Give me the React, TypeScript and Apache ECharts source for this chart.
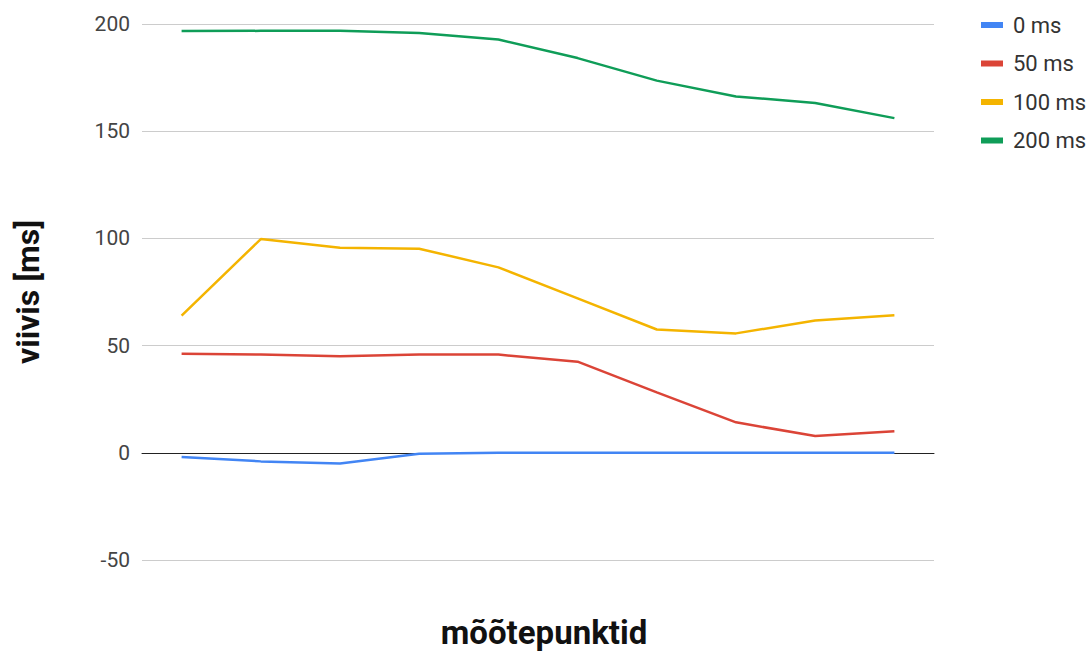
import { useEffect, useRef } from "react";
import * as echarts from "echarts";

// Ten measurement points (unlabelled on the x axis)
const points = ["1", "2", "3", "4", "5", "6", "7", "8", "9", "10"];

const seriesNames = ["0 ms", "50 ms", "100 ms", "200 ms"];
const seriesColors = ["#4285F4", "#DB4437", "#F4B400", "#0F9D58"];

const delay0 = [-2, -4, -5, -0.4, 0, 0, 0, 0, 0, 0];
const delay50 = [46.2, 45.8, 45, 45.8, 45.8, 42.5, 28.2, 14.2, 7.8, 10.1];
const delay100 = [64, 99.7, 95.6, 95.2, 86.5, 72, 57.5, 55.7, 61.7, 64.1];
const delay200 = [196.7, 196.8, 196.9, 195.8, 192.8, 184.1, 173.6, 166.2, 163.2, 156.1];

const yTicks = { min: -50, max: 200, interval: 50 };

export default function App() {
  const ref = useRef<HTMLDivElement>(null);

  useEffect(() => {
    if (!ref.current) return;
    const chart = echarts.init(ref.current, undefined, { renderer: "svg" });
    const values = [delay0, delay50, delay100, delay200];
    chart.setOption({
      animation: false,
      backgroundColor: "#ffffff",
      textStyle: { fontFamily: "Roboto" },
      grid: { left: 142, right: 158, top: 24, bottom: 91 },
      title: {
        text: "mõõtepunktid",
        left: 539,
        top: 611,
        textAlign: "center",
        textStyle: { fontFamily: "Roboto", fontWeight: "bold", fontSize: 33, color: "#111111" },
      },
      legend: {
        orient: "vertical",
        left: 976,
        top: 9,
        icon: "rect",
        itemWidth: 22,
        itemHeight: 6,
        itemGap: 16.5,
        data: seriesNames,
        textStyle: { fontFamily: "Roboto", fontSize: 22, color: "#333333", padding: [0, 0, 0, 5] },
      },
      xAxis: {
        type: "category",
        data: points,
        boundaryGap: true,
        axisLine: { onZero: true, lineStyle: { color: "#222222", width: 1 } },
        axisTick: { show: false },
        axisLabel: { show: false },
        splitLine: { show: false },
      },
      yAxis: {
        type: "value",
        min: yTicks.min,
        max: yTicks.max,
        interval: yTicks.interval,
        name: "viivis [ms]",
        nameLocation: "middle",
        nameGap: 98,
        nameTextStyle: { fontFamily: "Roboto", fontWeight: "bold", fontSize: 32, color: "#111111" },
        axisLine: { show: false },
        axisTick: { show: false },
        axisLabel: { fontFamily: "Roboto", fontSize: 21, color: "#444444", margin: 12 },
        splitLine: { lineStyle: { color: "#cccccc", width: 1 } },
      },
      series: seriesNames.map((name, i) => ({
        name,
        type: "line",
        data: values[i],
        color: seriesColors[i],
        symbol: "none",
        lineStyle: { width: 2.5, color: seriesColors[i] },
      })),
    });
    return () => chart.dispose();
  }, []);

  return (
    <div
      ref={ref}
      style={{ position: "fixed", left: 0, top: 0, width: 1092, height: 651 }}
    />
  );
}
